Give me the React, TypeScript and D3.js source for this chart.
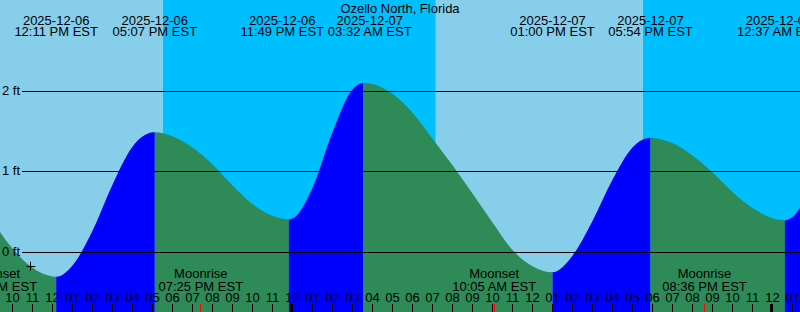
import React from "react";
import * as d3 from "d3";

const W = 800;
const H = 312;
const title = "Ozello North, Florida";

// Window of the graph (UTC used as a neutral "local EST" clock)
const startTime = "2025-12-06 09:22:30";
const endTime = "2025-12-08 01:22:30";

// Tide readings (ft)
const tideTimes = [
  "2025-12-06 08:00", "2025-12-06 09:00", "2025-12-06 10:00", "2025-12-06 11:00",
  "2025-12-06 12:00", "2025-12-06 12:11", "2025-12-06 13:00", "2025-12-06 14:00",
  "2025-12-06 15:00", "2025-12-06 16:00", "2025-12-06 17:00", "2025-12-06 17:07",
  "2025-12-06 18:00", "2025-12-06 19:00", "2025-12-06 20:00", "2025-12-06 21:00",
  "2025-12-06 22:00", "2025-12-06 23:00", "2025-12-06 23:49", "2025-12-07 00:00",
  "2025-12-07 01:00", "2025-12-07 02:00", "2025-12-07 03:00", "2025-12-07 03:32",
  "2025-12-07 04:00", "2025-12-07 05:00", "2025-12-07 06:00", "2025-12-07 07:00",
  "2025-12-07 08:00", "2025-12-07 09:00", "2025-12-07 10:00", "2025-12-07 11:00",
  "2025-12-07 12:00", "2025-12-07 13:00", "2025-12-07 14:00", "2025-12-07 15:00",
  "2025-12-07 16:00", "2025-12-07 17:00", "2025-12-07 17:54", "2025-12-07 18:00",
  "2025-12-07 19:00", "2025-12-07 20:00", "2025-12-07 21:00", "2025-12-07 22:00",
  "2025-12-07 23:00", "2025-12-08 00:00", "2025-12-08 00:37", "2025-12-08 01:00",
  "2025-12-08 02:00",
];
const tideHeights = [
  0.79, 0.39, 0.05, -0.19,
  -0.297, -0.30, -0.16, 0.27,
  0.84, 1.31, 1.488, 1.49,
  1.44, 1.30, 1.09, 0.83,
  0.60, 0.455, 0.41, 0.42,
  0.80, 1.49, 2.02, 2.10,
  2.086, 1.965, 1.73, 1.41,
  1.08, 0.73, 0.37, 0.03,
  -0.17, -0.245, -0.04, 0.39,
  0.90, 1.30, 1.42, 1.419,
  1.355, 1.20, 0.99, 0.75,
  0.55, 0.425, 0.40, 0.44,
  0.88,
];

// High / low tide events
const eventTimes = [
  "2025-12-06 12:11", "2025-12-06 17:07", "2025-12-06 23:49", "2025-12-07 03:32",
  "2025-12-07 13:00", "2025-12-07 17:54", "2025-12-08 00:37",
];
const eventTypes = ["Low", "High", "Low", "High", "Low", "High", "Low"];

// Sun events
const sunTimes = ["2025-12-06 17:31", "2025-12-07 07:10", "2025-12-07 17:31"];
const sunTypes = ["Sunset", "Sunrise", "Sunset"];

// Moon events
const moonTimes = ["2025-12-06 09:08", "2025-12-06 19:25", "2025-12-07 10:05", "2025-12-07 20:36"];
const moonTypes = ["Moonset", "Moonrise", "Moonset", "Moonrise"];

// Current-time marker
const nowTime = "2025-12-06 10:55";
const nowHeight = -0.17;

const yTickValues = [0, 1, 2];

const COLORS = {
  day: "#87CEEB",
  night: "#00BFFF",
  rising: "#0000FF",
  falling: "#2E8B57",
  text: "#000000",
  moonTick: "#FF0000",
};
const FONT = "'Liberation Sans', Arial, Helvetica, sans-serif";

const parse = (s: string) => new Date(s.replace(" ", "T") + "Z");
const fmtDate = d3.utcFormat("%Y-%m-%d");
const fmtTime = d3.utcFormat("%I:%M %p EST");
const fmtHour = d3.utcFormat("%I");

export default function App() {
  const x = d3.scaleUtc().domain([parse(startTime), parse(endTime)]).range([0, W]);
  const y = d3.scaleLinear().domain([0, 2]).range([252.5, 91.0]);

  const tide = tideTimes.map((t, i) => ({ t: parse(t), h: tideHeights[i] }));
  const area = d3
    .area<{ t: Date; h: number }>()
    .x((d) => x(d.t))
    .y0(H)
    .y1((d) => y(d.h))
    .curve(d3.curveMonotoneX);
  const areaPath = area(tide) || "";

  // background day/night segments
  const bounds = [0, ...sunTimes.map((s) => x(parse(s))), W];
  const bgSegs = bounds.slice(0, -1).map((b, i) => {
    const isNight = i === 0 ? sunTypes[0] === "Sunrise" : sunTypes[i - 1] === "Sunset";
    return { x0: b, x1: bounds[i + 1], color: isNight ? COLORS.night : COLORS.day };
  });

  // tide rising / falling segments
  const ev = eventTimes.map((t, i) => ({ t: parse(t), type: eventTypes[i] }));
  const tb = [0, ...ev.map((e) => x(e.t)), W];
  const tideSegs = tb.slice(0, -1).map((b, i) => {
    let rising: boolean;
    if (i < ev.length) rising = ev[i].type === "High";
    else rising = ev[ev.length - 1].type === "Low";
    return { x0: b, x1: tb[i + 1], color: rising ? COLORS.rising : COLORS.falling };
  });

  // top event labels with simple collision avoidance
  const labelMinGap = 87.5;
  const labelRightLimit = W - 21;
  const lx = ev.map((e) => x(e.t));
  for (let iter = 0; iter < 5; iter++) {
    for (let i = 0; i < lx.length - 1; i++) {
      const gap = lx[i + 1] - lx[i];
      if (gap < labelMinGap) {
        const s = (labelMinGap - gap) / 2;
        lx[i] -= s;
        lx[i + 1] += s;
      }
    }
  }
  for (let i = 0; i < lx.length; i++) lx[i] = Math.min(lx[i], labelRightLimit);

  const hours = d3.utcHours(parse(startTime), parse(endTime));
  const moon = moonTimes.map((t, i) => ({ t: parse(t), type: moonTypes[i] }));

  const nx = x(parse(nowTime));
  const ny = y(nowHeight);

  return (
    <svg
      width={W}
      height={H}
      style={{ position: "absolute", left: 0, top: 0, display: "block" }}
      fontFamily={FONT}
      fontSize={13}
    >
      <defs>
        <clipPath id="tideClip">
          <path d={areaPath} />
        </clipPath>
      </defs>
      {bgSegs.map((s, i) => (
        <rect key={"bg" + i} x={s.x0} y={0} width={s.x1 - s.x0} height={H} fill={s.color} />
      ))}
      <g clipPath="url(#tideClip)">
        {tideSegs.map((s, i) => (
          <rect key={"ts" + i} x={s.x0} y={0} width={s.x1 - s.x0} height={H} fill={s.color} />
        ))}
      </g>
      {yTickValues.map((v) => {
        const yy = Math.floor(y(v)) + 0.5;
        return (
          <g key={"yt" + v}>
            <line x1={22} x2={W} y1={yy} y2={yy} stroke="#000" strokeWidth={1} />
            <text x={2} y={Math.floor(y(v)) + 4} fill={COLORS.text}>
              {v} ft
            </text>
          </g>
        );
      })}
      {/* hour ticks and labels */}
      {hours.map((h, i) => {
        const px = x(h);
        const midnight = h.getUTCHours() === 0;
        return (
          <g key={"h" + i}>
            {midnight ? (
              <rect x={Math.floor(px) - 2} y={304} width={3} height={8} fill="#000" />
            ) : (
              <line x1={Math.floor(px) + 0.5} x2={Math.floor(px) + 0.5} y1={304} y2={312} stroke="#000" />
            )}
            <text x={px} y={302} textAnchor="middle" fill={COLORS.text}>
              {fmtHour(h)}
            </text>
          </g>
        );
      })}
      {/* moon events */}
      {moon.map((m, i) => {
        const px = x(m.t);
        return (
          <g key={"m" + i}>
            <line x1={Math.floor(px) + 0.5} x2={Math.floor(px) + 0.5} y1={304} y2={312} stroke={COLORS.moonTick} />
            <text x={px} y={277.5} textAnchor="middle" fill={COLORS.text}>
              {m.type}
            </text>
            <text x={px} y={290.5} textAnchor="middle" fill={COLORS.text}>
              {fmtTime(m.t)}
            </text>
          </g>
        );
      })}
      {/* tide event labels */}
      {ev.map((e, i) => (
        <g key={"e" + i}>
          <text x={lx[i]} y={24.5} textAnchor="middle" fill={COLORS.text}>
            {fmtDate(e.t)}
          </text>
          <text x={lx[i]} y={36} textAnchor="middle" fill={COLORS.text}>
            {fmtTime(e.t)}
          </text>
        </g>
      ))}
      <text x={W / 2} y={12.5} textAnchor="middle" fill={COLORS.text}>
        {title}
      </text>
      {/* current time marker */}
      <line x1={nx - 4.5} x2={nx + 4.5} y1={Math.floor(ny) + 0.5} y2={Math.floor(ny) + 0.5} stroke="#000" />
      <line x1={Math.floor(nx) + 0.5} x2={Math.floor(nx) + 0.5} y1={ny - 4.5} y2={ny + 4.5} stroke="#000" />
    </svg>
  );
}
